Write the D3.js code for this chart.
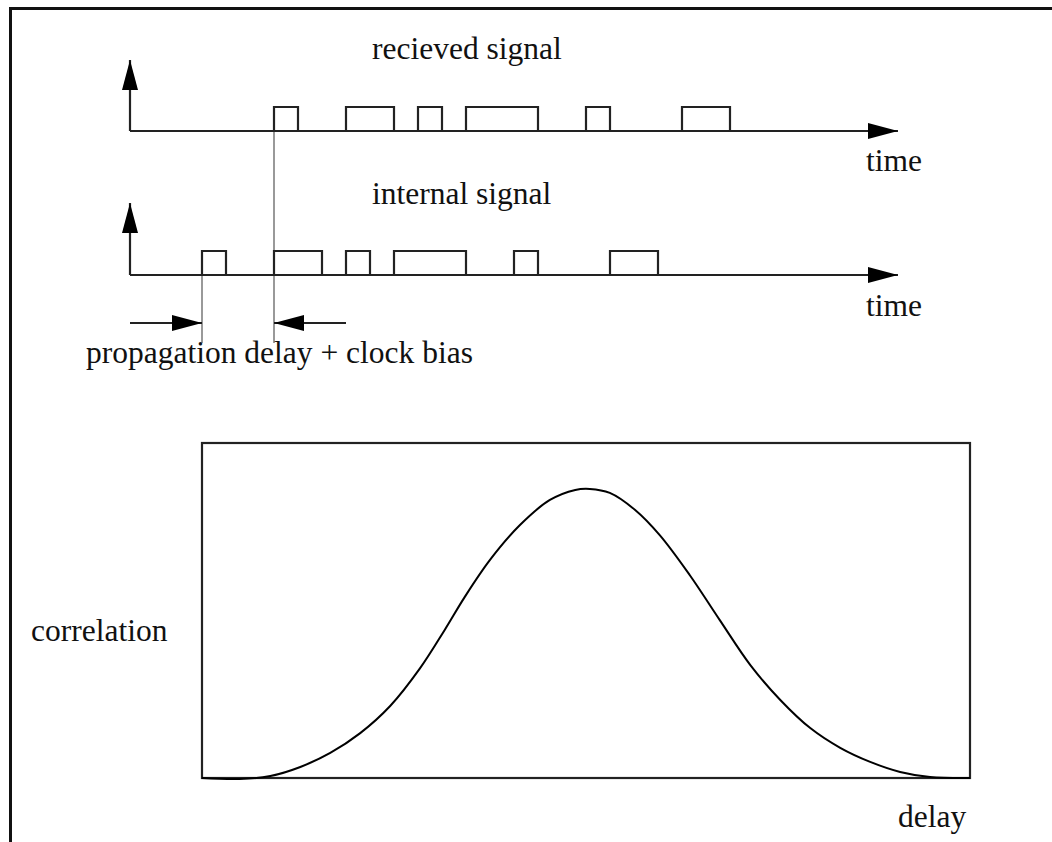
<!DOCTYPE html>
<html lang="en">
<head>
    <meta charset="UTF-8">
    <title>Signal correlation</title>
    <script src="https://d3js.org/d3.v7.min.js"></script>
    <style>
        body { margin: 0; background: #fff; }
        svg text {
            font-family: "Liberation Serif", "Times New Roman", serif;
            font-size: 31.5px;
            fill: #111;
        }
        .axis { stroke: #222; stroke-width: 2.2; fill: none; }
        .sig { stroke: #222; stroke-width: 2.2; fill: none; }
        .guide { stroke: #999; stroke-width: 2; }
        .frame { stroke: #111; stroke-width: 3; fill: none; }
    </style>
</head>
<body>
<svg></svg>
<script>
    // chip edges (time in chip units) for the two code signals
    const receivedSpan = [0, 22];
    const receivedHigh = [[1, 2], [4, 6], [7, 8], [9, 12], [14, 15], [18, 20]];
    const internalSpan = [-3, 19];
    const internalHigh = [[-2, -1], [1, 3], [4, 5], [6, 9], [11, 12], [15, 17]];

    // correlation curve
    const corrDelay = [0, 4.9, 8.9, 12.8, 16.7, 20.6, 24.5, 28.4, 31.6, 34.2, 37.5, 41.4, 45.3, 48.6,
        50.5, 53.1, 56.4, 59.6, 63.5, 67.4, 71.4, 75.3, 79.2, 83.1, 87.0, 90.9, 94.8, 100];
    const corrValue = [0, -0.003, 0.006, 0.033, 0.075, 0.134, 0.215, 0.328, 0.442, 0.54, 0.651, 0.755, 0.83, 0.86,
        0.863, 0.851, 0.8, 0.725, 0.606, 0.472, 0.337, 0.233, 0.149, 0.09, 0.048, 0.018, 0.003, 0];

    const labels = {
        received: "recieved signal",
        internal: "internal signal",
        time: "time",
        delayNote: "propagation delay + clock bias",
        corr: "correlation",
        delay: "delay"
    };

    const W = 1052, H = 842;
    const svg = d3.select("svg").attr("width", W).attr("height", H);

    // outer frame (top + left visible)
    svg.append("path").attr("class", "frame")
        .attr("d", `M10.5,${H} L10.5,8.5 L${W},8.5`);

    const t = d3.scaleLinear().domain([-5, 27]).range([130, 898]);

    const defs = svg.append("defs");
    defs.append("marker")
        .attr("id", "head")
        .attr("viewBox", "0 0 30 16")
        .attr("refX", 30).attr("refY", 8)
        .attr("markerWidth", 30).attr("markerHeight", 16)
        .attr("markerUnits", "userSpaceOnUse")
        .attr("orient", "auto")
        .append("path").attr("d", "M0,0 L30,8 L0,16 Z").attr("fill", "#000");

    function signalPath(span, highs, base, top) {
        let p = `M${t(span[0])},${base}`;
        highs.forEach(h => {
            p += ` L${t(h[0])},${base} L${t(h[0])},${top} L${t(h[1])},${top} L${t(h[1])},${base}`;
        });
        p += ` L${t(span[1])},${base}`;
        return p;
    }

    const recBase = 131, intBase = 275;

    // guide lines at the first edges (drawn under the signals)
    svg.append("line").attr("class", "guide")
        .attr("x1", t(receivedHigh[0][0])).attr("y1", recBase)
        .attr("x2", t(receivedHigh[0][0])).attr("y2", 343);
    svg.append("line").attr("class", "guide")
        .attr("x1", t(internalHigh[0][0])).attr("y1", intBase)
        .attr("x2", t(internalHigh[0][0])).attr("y2", 343);

    function drawTrack(base, top, yTip, span, highs, title, titleY, timeY) {
        svg.append("line").attr("class", "axis")
            .attr("x1", t(-5)).attr("y1", base).attr("x2", t(-5)).attr("y2", yTip)
            .attr("marker-end", "url(#head)");
        svg.append("line").attr("class", "axis")
            .attr("x1", t(-5)).attr("y1", base).attr("x2", t(27)).attr("y2", base)
            .attr("marker-end", "url(#head)");
        svg.append("path").attr("class", "sig").attr("d", signalPath(span, highs, base, top));
        svg.append("text").attr("x", 372).attr("y", titleY).text(title);
        svg.append("text").attr("x", 866).attr("y", timeY).text(labels.time);
    }

    drawTrack(recBase, 107, 60, receivedSpan, receivedHigh, labels.received, 59, 171);
    drawTrack(intBase, 251, 203, internalSpan, internalHigh, labels.internal, 204, 316);

    // delay arrows
    svg.append("line").attr("class", "axis")
        .attr("x1", t(-5)).attr("y1", 323).attr("x2", t(internalHigh[0][0])).attr("y2", 323)
        .attr("marker-end", "url(#head)");
    svg.append("line").attr("class", "axis")
        .attr("x1", t(4)).attr("y1", 323).attr("x2", t(receivedHigh[0][0])).attr("y2", 323)
        .attr("marker-end", "url(#head)");
    svg.append("text").attr("x", 86).attr("y", 363).text(labels.delayNote);

    // correlation panel
    const x = d3.scaleLinear().domain([0, 100]).range([202, 970]);
    const y = d3.scaleLinear().domain([0, 1]).range([778, 443]);

    svg.append("rect").attr("class", "axis")
        .attr("x", x(0)).attr("y", y(1))
        .attr("width", x(100) - x(0)).attr("height", y(0) - y(1));

    const pts = corrDelay.map((d, i) => [d, corrValue[i]]);
    svg.append("path")
        .attr("d", d3.line().x(d => x(d[0])).y(d => y(d[1])).curve(d3.curveCatmullRom)(pts))
        .attr("fill", "none").attr("stroke", "#000").attr("stroke-width", 2);

    svg.append("text").attr("x", 31).attr("y", 641).text(labels.corr);
    svg.append("text").attr("x", 898).attr("y", 827).text(labels.delay);
</script>
</body>
</html>
